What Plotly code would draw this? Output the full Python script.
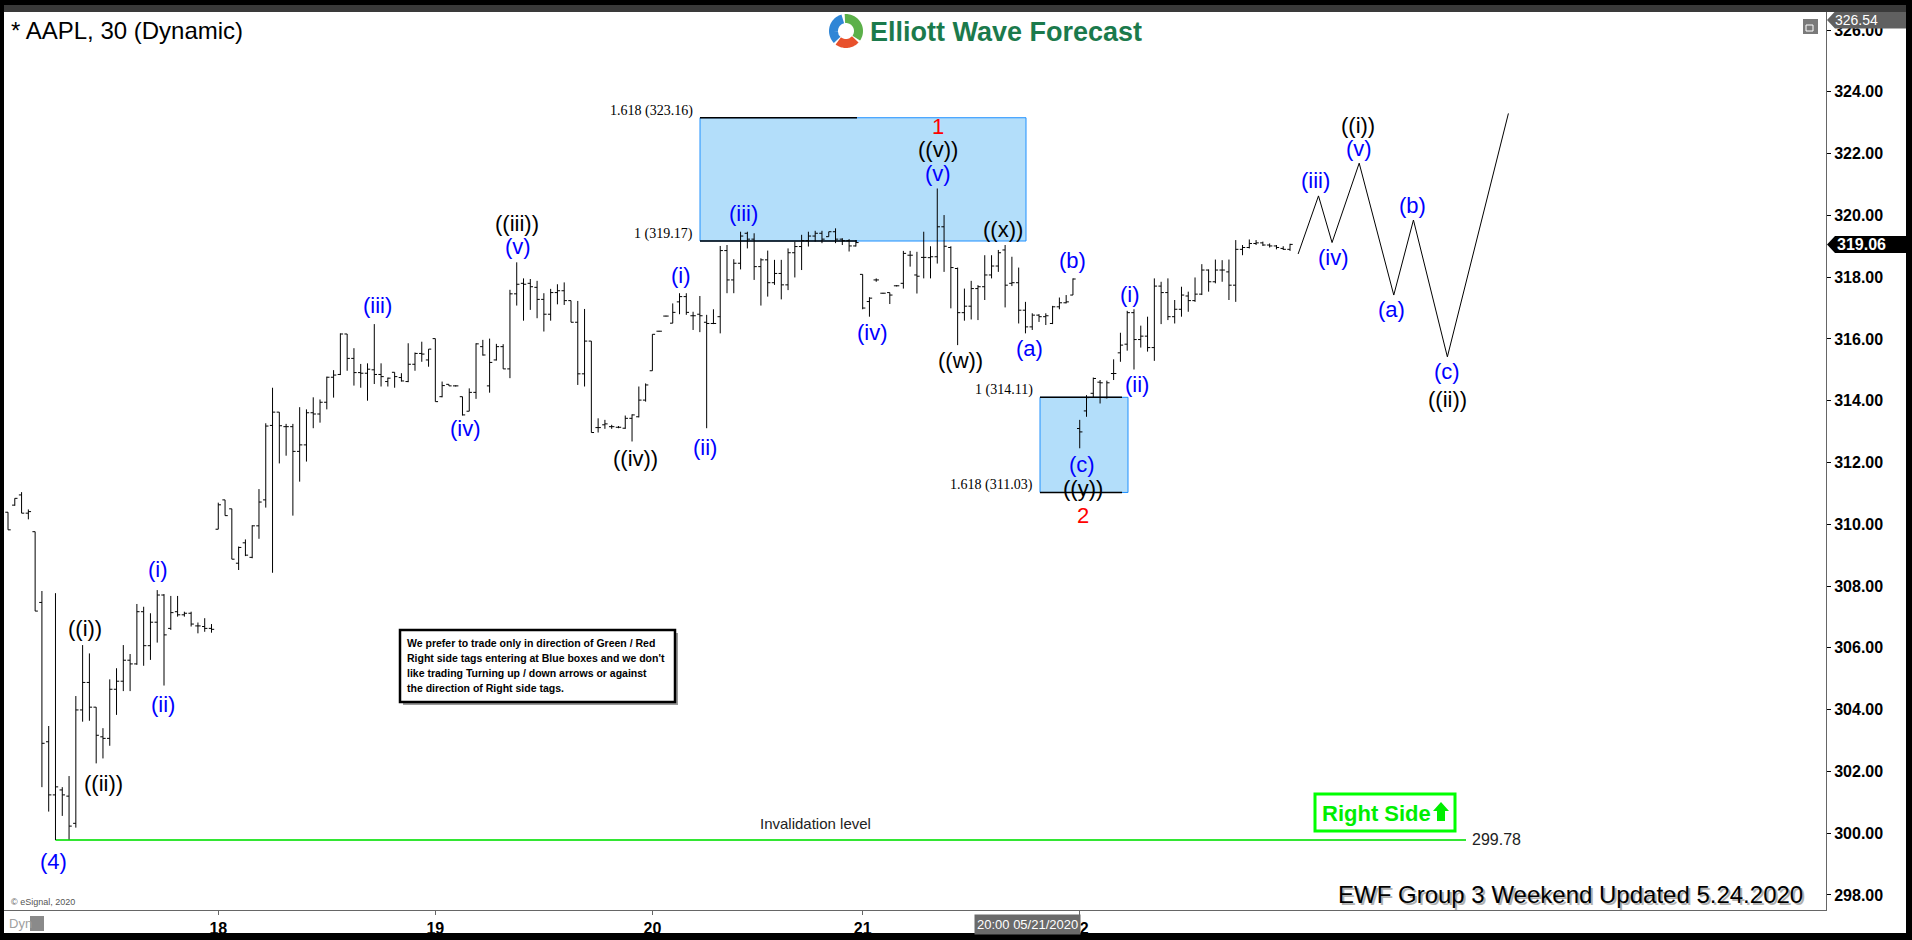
import math
import plotly.graph_objects as go

# ---------------- data ----------------
bar_open = [
    310.39, 310.62, 310.95, 310.36, 309.76, 307.47, 302.96, 301.24, 301.40, 301.20,
    300.32, 303.99, 304.88, 304.08, 303.12, 303.07, 304.66, 304.92, 305.60, 305.48,
    307.17, 306.07, 306.83, 307.71, 306.63, 307.17, 307.07, 307.12, 306.71, 306.69,
    306.63,
    309.84, 310.79, 310.50, 308.74, 309.40, 308.93, 309.95, 310.79, 313.20, 313.63,
    313.16, 313.16, 312.36, 312.57, 313.61, 313.57, 313.95, 314.76, 314.85, 316.16,
    315.37, 314.91, 314.89, 315.00, 314.85, 314.62, 314.92, 314.75, 314.62, 315.18,
    315.53, 315.32,
    316.01, 314.13, 314.53, 314.48, 314.13, 313.66, 314.27, 315.75, 314.48, 315.32,
    315.75, 315.03, 317.46, 317.80, 317.80, 317.67, 317.28, 316.80, 317.50, 317.56,
    317.24, 316.54, 314.87, 315.93, 313.13, 313.22, 313.16, 313.14, 313.11, 313.43,
    313.48, 314.02,
    314.97, 316.25, 316.74, 316.51, 317.20, 317.37, 316.75, 316.80, 316.54, 316.50,
    316.72, 318.86, 317.91, 318.45, 319.42, 319.23, 318.34, 318.56, 317.82, 318.12,
    317.75, 318.79, 318.99, 319.18, 319.33, 319.42, 319.31, 319.47, 319.23, 319.18,
    319.01,
    318.09, 317.21, 317.91, 317.48, 317.50, 317.72, 317.80, 318.71, 318.07, 318.64,
    318.63, 318.66, 319.63, 318.96, 318.28, 316.85, 317.06, 317.63, 317.69, 318.07,
    318.36, 318.88, 317.80, 317.82, 316.93, 316.39, 316.77, 316.72, 316.50, 317.04,
    317.17, 317.42,
    313.10, 313.67, 314.24, 314.60, 314.10, 314.88, 315.55, 315.83, 316.85, 315.98,
    316.09, 315.72, 317.71, 317.50, 316.72, 316.96, 317.39, 317.24, 317.45, 318.23,
    317.85, 318.23, 318.17, 317.74, 318.90, 318.96, 319.09, 319.11, 319.04, 319.01,
    318.93, 318.90,
]
bar_high = [
    310.39, 310.84, 311.04, 310.48, 309.76, 307.84, 303.47, 307.77, 301.49, 301.85,
    304.44, 306.09, 305.82, 304.08, 303.40, 304.98, 305.34, 306.09, 305.80, 307.42,
    307.33, 307.12, 307.87, 307.74, 307.68, 307.68, 307.17, 307.17, 306.82, 306.96,
    306.77,
    310.70, 310.79, 310.50, 309.28, 309.51, 309.97, 311.14, 313.27, 314.42, 313.63,
    313.25, 313.25, 313.79, 313.72, 314.11, 314.04, 314.78, 314.99, 316.18, 316.16,
    315.70, 315.19, 315.21, 316.48, 315.21, 314.75, 314.92, 314.89, 315.86, 315.56,
    315.91, 315.67,
    316.01, 314.62, 314.53, 314.50, 314.13, 314.40, 315.86, 315.97, 316.01, 315.84,
    315.83, 317.59, 318.48, 317.96, 317.94, 317.88, 317.48, 317.62, 317.77, 317.83,
    317.24, 317.23, 316.97, 315.93, 313.43, 313.38, 313.22, 313.18, 313.52, 313.56,
    314.46, 314.56,
    316.15, 316.26, 316.75, 317.15, 317.48, 317.48, 316.88, 317.39, 316.78, 316.96,
    319.01, 319.04, 318.58, 319.47, 319.47, 319.42, 318.61, 318.86, 318.56, 318.56,
    318.93, 319.15, 319.37, 319.47, 319.50, 319.50, 319.47, 319.58, 319.26, 319.23,
    319.20,
    318.09, 317.35, 317.96, 317.49, 317.50, 317.74, 318.85, 318.85, 318.82, 319.47,
    319.00, 320.87, 320.01, 319.00, 318.31, 317.63, 317.88, 317.74, 318.71, 318.71,
    318.88, 319.04, 318.66, 318.31, 317.20, 316.83, 316.80, 316.83, 317.07, 317.34,
    317.42, 317.96,
    313.38, 314.18, 314.75, 314.67, 314.65, 315.34, 316.20, 316.91, 316.96, 316.43,
    316.72, 317.96, 317.85, 317.96, 317.26, 317.69, 317.53, 317.99, 318.42, 318.25,
    318.57, 318.55, 318.57, 319.20, 319.04, 319.22, 319.20, 319.15, 319.09, 319.04,
    319.00, 319.08,
]
bar_low = [
    309.82, 310.60, 310.36, 310.16, 307.19, 301.49, 300.70, 299.78, 300.56, 299.80,
    300.18, 303.61, 303.64, 302.26, 302.42, 302.83, 303.83, 304.60, 304.60, 305.45,
    305.42, 305.61, 306.17, 304.78, 306.58, 307.01, 307.01, 306.69, 306.47, 306.52,
    306.49,
    309.84, 310.28, 308.87, 308.52, 308.97, 308.90, 309.53, 310.54, 308.43, 311.97,
    312.22, 310.28, 311.38, 312.03, 313.11, 313.29, 313.72, 314.10, 314.83, 314.97,
    314.49, 314.42, 314.00, 314.54, 314.46, 314.46, 314.42, 314.62, 314.60, 314.97,
    315.26, 315.10,
    313.97, 314.11, 314.48, 314.46, 313.52, 313.66, 314.06, 315.46, 314.26, 315.30,
    315.03, 314.73, 317.08, 316.59, 316.94, 316.67, 316.24, 316.59, 317.12, 317.10,
    316.54, 314.51, 314.46, 312.97, 312.97, 313.09, 313.09, 313.11, 313.09, 312.68,
    313.46, 313.97,
    314.97, 316.24, 316.73, 316.51, 316.80, 316.78, 316.29, 316.22, 313.11, 316.48,
    316.18, 317.48, 317.48, 318.25, 318.93, 317.91, 317.08, 317.37, 317.75, 317.28,
    317.58, 317.99, 318.23, 318.99, 319.15, 319.10, 319.31, 319.10, 319.04, 318.83,
    318.99,
    316.96, 316.72, 317.85, 317.47, 317.13, 317.70, 317.63, 318.34, 317.47, 317.96,
    317.96, 318.44, 318.17, 316.99, 315.80, 316.59, 316.63, 316.61, 317.26, 317.96,
    318.17, 317.02, 317.71, 316.50, 316.18, 316.29, 316.55, 316.45, 316.48, 316.96,
    317.15, 317.42,
    312.46, 313.48, 314.11, 313.91, 314.07, 314.67, 315.26, 315.62, 315.01, 315.72,
    315.59, 315.29, 316.48, 316.61, 316.50, 316.72, 316.88, 317.20, 317.42, 317.53,
    317.80, 317.85, 317.26, 317.20, 318.71, 318.93, 319.04, 319.01, 318.96, 318.90,
    318.88, 318.85,
]
bar_close = [
    309.82, 310.84, 310.36, 310.41, 307.19, 302.91, 301.24, 301.50, 301.24, 300.23,
    303.99, 304.88, 304.08, 303.17, 303.07, 304.66, 304.92, 305.60, 305.48, 307.17,
    306.07, 306.83, 307.71, 306.42, 307.14, 307.07, 307.12, 306.77, 306.71, 306.63,
    306.60,
    310.63, 310.28, 308.87, 309.25, 309.00, 309.95, 310.72, 313.18, 313.63, 313.19,
    313.16, 312.36, 312.57, 313.61, 313.57, 313.95, 314.76, 314.83, 316.16, 315.37,
    314.91, 314.89, 315.02, 314.85, 314.78, 314.73, 314.78, 314.64, 315.18, 315.53,
    315.51, 315.67,
    313.97, 314.49, 314.48, 314.48, 313.54, 314.27, 315.84, 315.48, 315.24, 315.75,
    315.03, 317.46, 317.77, 317.77, 317.69, 317.28, 316.80, 317.50, 317.56, 317.24,
    316.54, 314.87, 315.93, 312.97, 313.13, 313.25, 313.16, 313.14, 313.43, 313.54,
    314.02, 314.51,
    316.15, 316.25, 316.74, 316.86, 317.37, 316.86, 316.75, 316.75, 316.50, 316.50,
    318.86, 317.91, 318.45, 319.33, 319.23, 318.34, 318.56, 317.82, 318.12, 317.75,
    318.79, 318.99, 319.18, 319.33, 319.42, 319.23, 319.47, 319.23, 319.18, 319.01,
    319.12,
    317.00, 317.32, 317.91, 317.48, 317.42, 317.72, 318.77, 318.71, 318.03, 318.64,
    318.66, 319.63, 319.00, 318.31, 316.85, 317.06, 317.63, 317.69, 318.07, 318.36,
    318.79, 317.74, 317.82, 316.93, 316.39, 316.77, 316.72, 316.75, 317.04, 317.17,
    317.20, 317.94,
    312.99, 314.10, 314.72, 314.58, 314.58, 314.88, 315.80, 316.85, 315.98, 316.09,
    315.72, 317.71, 317.50, 316.72, 316.96, 317.42, 317.24, 317.45, 318.23, 317.85,
    318.23, 318.23, 317.74, 318.90, 318.96, 319.09, 319.11, 319.04, 319.01, 318.96,
    318.90, 319.06,
]
bar_index = list(range(len(bar_open)))

day_tick_bars = [31, 63, 95, 126, 158]
day_tick_labels = ["18", "19", "20", "21", "22"]
price_ticks = [298, 300, 302, 304, 306, 308, 310, 312, 314, 316, 318, 320, 322, 324, 326]

# projected Elliott path (bar position, price)
proj_x = [190.2, 193.2, 195.2, 199.2, 204.3, 207.2, 212.2, 221.2]
proj_y = [318.75, 320.63, 319.12, 321.69, 317.42, 319.85, 315.42, 323.30]

fib_box_upper = [319.17, 323.16]
fib_box_upper_ratio = ["1", "1.618"]
fib_box_lower = [314.11, 311.03]
fib_box_lower_ratio = ["1", "1.618"]
invalidation_level = 299.78
last_price = 319.06
high_tag_price = 326.54

notice_lines = [
    "We prefer to trade only in direction of Green / Red",
    "Right side tags entering at Blue boxes and we don't",
    "like trading Turning up / down arrows or against",
    "the direction of Right side tags.",
]

# ---------------- geometry ----------------
W, H = 1912, 940
ML, MR, MT, MB = 4, 86, 12, 30
PW, PH = W - ML - MR, H - MT - MB
X0, X1 = -0.59, 268.02
Y0, Y1 = 297.514, 326.583


def fx(px):
    return (px - ML) / PW


def fy(py):
    return 1 - (py - MT) / PH


def dx(px):
    return X0 + (px - ML) / PW * (X1 - X0)


def py_of(v):
    return MT + (Y1 - v) / (Y1 - Y0) * PH


BLUE = "#0000ff"
BLACK = "#000000"
RED = "#ff0000"
SANS = "Arial, Liberation Sans, sans-serif"
SERIF = "Liberation Serif, Times New Roman, serif"

fig = go.Figure()

fig.add_trace(go.Ohlc(
    x=bar_index, open=bar_open, high=bar_high, low=bar_low, close=bar_close,
    increasing=dict(line=dict(color=BLACK, width=1)),
    decreasing=dict(line=dict(color=BLACK, width=1)),
    tickwidth=0.4, hoverinfo="skip", showlegend=False,
))

fig.add_trace(go.Scatter(
    x=proj_x, y=proj_y, mode="lines", line=dict(color=BLACK, width=1),
    hoverinfo="skip", showlegend=False,
))

shapes = []
annotations = []


def ann(px, py, text, size, color, family=SANS, xanchor="center", yanchor="middle", **kw):
    d = dict(xref="paper", yref="paper", x=fx(px), y=fy(py), xanchor=xanchor, yanchor=yanchor,
             showarrow=False, text=text, font=dict(family=family, size=size, color=color))
    d.update(kw)
    annotations.append(d)


def P(px, py):
    return f"{fx(px):.6f},{fy(py):.6f}"


def prect(x0, y0, x1, y1, **kw):
    d = dict(type="rect", xref="paper", yref="paper", x0=fx(x0), x1=fx(x1), y0=fy(y1), y1=fy(y0))
    d.update(kw)
    shapes.append(d)


# ---- blue boxes with fib lines ----
def fib_box(levels, ratios, px_left, px_right, px_line_end):
    lo, hi = min(levels), max(levels)
    shapes.append(dict(type="rect", xref="x", yref="y", x0=dx(px_left), x1=dx(px_right),
                       y0=lo, y1=hi, fillcolor="#b3defa", line=dict(color="#1e90ff", width=1),
                       layer="below"))
    for lv, r in zip(levels, ratios):
        shapes.append(dict(type="line", xref="x", yref="y", x0=dx(px_left), x1=dx(px_line_end),
                           y0=lv, y1=lv, line=dict(color=BLACK, width=1.5), layer="below"))
        ann(px_left - 5, py_of(lv) - 7, f"{r} ({lv:.2f})", 14, BLACK, family=SERIF, xanchor="right")


fib_box(fib_box_upper, fib_box_upper_ratio, 700, 1026, 857)
fib_box(fib_box_lower, fib_box_lower_ratio, 1040, 1128, 1122)

# ---- invalidation line ----
inv_start = bar_low.index(min(bar_low))
shapes.append(dict(type="line", xref="x", yref="y", x0=bar_index[inv_start], x1=dx(1466),
                   y0=invalidation_level, y1=invalidation_level,
                   line=dict(color="#33e633", width=2), layer="below"))
ann(815, 823, "Invalidation level", 15, "#222222")
ann(1470, py_of(invalidation_level), f"{invalidation_level:.2f}", 16, "#222222", xanchor="left")

# ---- wave labels (layout positions in pixels) ----
wave_labels = [
    ("(4)", 53, 861, BLUE), ("((i))", 85, 628, BLACK), ("((ii))", 103, 783, BLACK),
    ("(i)", 158, 569, BLUE), ("(ii)", 163, 704, BLUE), ("(iii)", 377, 305, BLUE),
    ("(iv)", 465, 429, BLUE), ("((iii))", 517, 223, BLACK), ("(v)", 518, 246, BLUE),
    ("((iv))", 635, 458, BLACK), ("(i)", 681, 275, BLUE), ("(ii)", 705, 447, BLUE),
    ("(iii)", 743, 213, BLUE), ("(iv)", 872, 332, BLUE), ("1", 938, 127, RED),
    ("((v))", 938, 150, BLACK), ("(v)", 938, 173, BLUE), ("((x))", 1003, 229, BLACK),
    ("((w))", 960, 360, BLACK), ("(a)", 1029, 348, BLUE), ("(b)", 1072, 260, BLUE),
    ("(c)", 1082, 464, BLUE), ("((y))", 1083, 488, BLACK), ("2", 1083, 515, RED),
    ("(i)", 1130, 295, BLUE), ("(ii)", 1137, 385, BLUE), ("(iii)", 1315, 180, BLUE),
    ("(iv)", 1333, 257, BLUE), ("((i))", 1358, 126, BLACK), ("(v)", 1359, 149, BLUE),
    ("(a)", 1391, 309, BLUE), ("(b)", 1412, 206, BLUE), ("(c)", 1447, 371, BLUE),
    ("((ii))", 1447, 399, BLACK),
]
for t, px, py, col in wave_labels:
    ann(px, py, t, 22, col)

# ---- title / logo ----
ann(9, 31, "* AAPL, 30 (Dynamic)", 24, BLACK, xanchor="left")
ann(868, 32, "<b>Elliott Wave Forecast</b>", 27, "#1b7a4c", xanchor="left")


def arc(cx, cy, r, a0, a1, n=30):
    pts = []
    for i in range(n + 1):
        a = math.radians(a0 + (a1 - a0) * i / n)
        pts.append(P(cx + r * math.cos(a), cy - r * math.sin(a)))
    return "M " + " L ".join(pts)


for a0, a1, col in [(-35, 95, "#5cb04a"), (105, 225, "#2f86d6"), (232, 318, "#e8512c")]:
    shapes.append(dict(type="path", xref="paper", yref="paper", path=arc(846, 31, 12.5, a0, a1),
                       line=dict(color=col, width=9)))

# ---- notice box ----
prect(403, 633, 678, 705, fillcolor="#9a9a9a", line=dict(width=0))
prect(400, 630, 675, 702, fillcolor="white", line=dict(color=BLACK, width=2.5))
for i, line in enumerate(notice_lines):
    ann(405, 643 + 15 * i, f"<b>{line}</b>", 10.5, BLACK, xanchor="left")

# ---- right side tag ----
GREEN = "#00ee00"
prect(1315, 794, 1455, 831, fillcolor="white", line=dict(color="#00ff00", width=3))
ann(1376, 813, "<b>Right Side</b>", 22, GREEN)
arrow_pts = [(1441, 802), (1449, 811), (1445, 811), (1445, 821), (1437, 821), (1437, 811), (1433, 811)]
shapes.append(dict(type="path", xref="paper", yref="paper",
                   path="M " + " L ".join(P(a, b) for a, b in arrow_pts) + " Z",
                   fillcolor=GREEN, line=dict(width=0)))

# ---- footer text ----
for off, col in [(2, "#b0b0b0"), (0, BLACK)]:
    ann(1805 + off, 894 + off, "EWF Group 3 Weekend Updated 5.24.2020", 24, col, xanchor="right")
ann(9, 902, "© eSignal, 2020", 9, "#555555", xanchor="left")


# ---- price tags on the axis ----
def tag(yc, fill, text, bold, size, tx):
    h = 8.5
    path = "M " + " L ".join([P(1827, yc), P(1835, yc - h), P(1906, yc - h), P(1906, yc + h), P(1835, yc + h)]) + " Z"
    shapes.append(dict(type="path", xref="paper", yref="paper", path=path, fillcolor=fill, line=dict(width=0)))
    ann(tx, yc, f"<b>{text}</b>" if bold else text, size, "white")


tag(20, "#606060", f"{high_tag_price:.2f}", False, 14, 1856)
tag(py_of(last_price), BLACK, f"{last_price:.2f}", True, 16, 1862)

# crosshair time label
ann(1027, 924, "20:00 05/21/2020", 13, "white", bgcolor="#6a6a6a", borderpad=2)
# Dyn label
ann(7, 923, "Dyn", 13, "#a0a0a0", xanchor="left")
prect(30, 916, 44, 931, fillcolor="#8a8a8a", line=dict(width=0))
# window icon top-right
prect(1803, 19, 1818, 34, fillcolor="#7a7a7a", line=dict(width=0))
prect(1806, 25, 1813, 31, fillcolor="rgba(0,0,0,0)", line=dict(color="white", width=1))

# ---- frame ----
for x0, y0, x1, y1, col in [
    (0, 0, W, 5, "#000000"), (0, 5, W, 12, "#3a3a3a"), (0, 0, 4, H, "#000000"),
    (1906, 0, W, H, "#000000"), (0, 933, W, H, "#000000"),
]:
    prect(x0, y0, x1, y1, fillcolor=col, line=dict(width=0))

fig.update_layout(
    width=W, height=H, margin=dict(l=ML, r=MR, t=MT, b=MB),
    paper_bgcolor="white", plot_bgcolor="white",
    showlegend=False, hovermode=False,
    shapes=shapes, annotations=annotations,
    xaxis=dict(range=[X0, X1], tickvals=day_tick_bars, ticktext=[f"<b>{t}</b>" for t in day_tick_labels],
               showgrid=False, zeroline=False, showline=True, linecolor="#666666", linewidth=1,
               ticks="outside", ticklen=4, tickcolor="#666666",
               tickfont=dict(family=SANS, size=16, color=BLACK), rangeslider=dict(visible=False),
               fixedrange=True),
    yaxis=dict(range=[Y0, Y1], side="right", tickvals=price_ticks,
               ticktext=[f"<b>{v:.2f}</b>" for v in price_ticks],
               showgrid=False, zeroline=False, showline=True, linecolor="#666666", linewidth=1,
               ticks="outside", ticklen=4, tickcolor=BLACK,
               tickfont=dict(family=SANS, size=16, color=BLACK), fixedrange=True),
)

fig.write_html("out.html", config={"displayModeBar": False},
               post_script="document.body.style.margin='0px';document.body.style.overflow='hidden';")
